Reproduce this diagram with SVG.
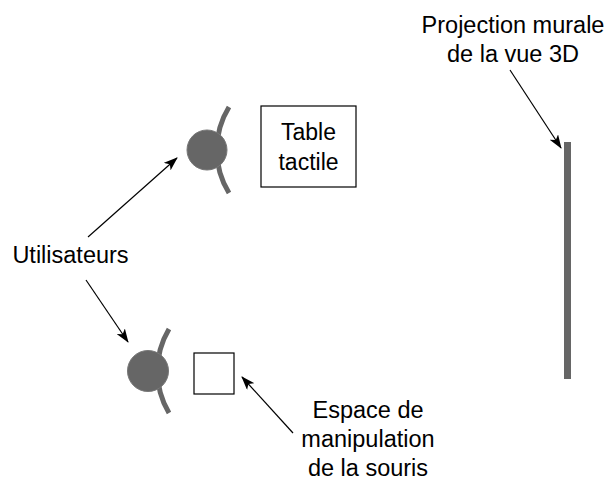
<svg xmlns="http://www.w3.org/2000/svg" width="606" height="480" viewBox="0 0 606 480">
<style>
text{font-family:"Liberation Sans",Arial,sans-serif;font-size:23.5px;fill:#000;text-anchor:middle}
.head{fill:#666;stroke:#777;stroke-width:1}
.arc{fill:none;stroke:#666;stroke-width:5}
.box{fill:#fff;stroke:#000;stroke-width:1.2}
.conn{stroke:#000;stroke-width:1.2;fill:none;marker-end:url(#ah)}
</style>
<defs>
<marker id="ah" viewBox="0 0 14 10" refX="13" refY="5" markerWidth="14" markerHeight="10" markerUnits="userSpaceOnUse" orient="auto">
<path d="M0,0 L14,5 L0,10 L3.5,5 Z" fill="#000"/>
</marker>
</defs>
<rect width="606" height="480" fill="#fff"/>
<g id="user-top">
<path class="arc" d="M229,107 A82,82 0 0 0 229,193"/>
<circle class="head" cx="207" cy="150" r="20"/>
</g>
<g id="user-bottom">
<path class="arc" d="M169,329 A82,82 0 0 0 169,413"/>
<circle class="head" cx="148" cy="371" r="20.5"/>
</g>
<g id="table-tactile">
<rect class="box" x="261" y="106" width="95" height="81"/>
<text x="308.5" y="140" style="font-size:23px">Table</text>
<text x="308.5" y="170" style="font-size:23px">tactile</text>
</g>
<g id="espace-souris">
<rect class="box" x="194" y="353" width="40" height="41"/>
</g>
<g id="mur">
<rect x="564" y="142" width="7" height="237" fill="#666"/>
</g>
<g id="label-utilisateurs">
<text x="70.5" y="263">Utilisateurs</text>
</g>
<g id="label-projection">
<text x="513" y="33">Projection murale</text>
<text x="513" y="62">de la vue 3D</text>
</g>
<g id="label-espace">
<text x="368" y="418">Espace de</text>
<text x="368" y="447">manipulation</text>
<text x="368" y="476">de la souris</text>
</g>
<g id="connectors">
<line class="conn" x1="88" y1="237" x2="177" y2="158"/>
<line class="conn" x1="86" y1="280" x2="128" y2="342"/>
<line class="conn" x1="510" y1="70" x2="561" y2="148"/>
<line class="conn" x1="293" y1="433" x2="242" y2="377"/>
</g>
</svg>
